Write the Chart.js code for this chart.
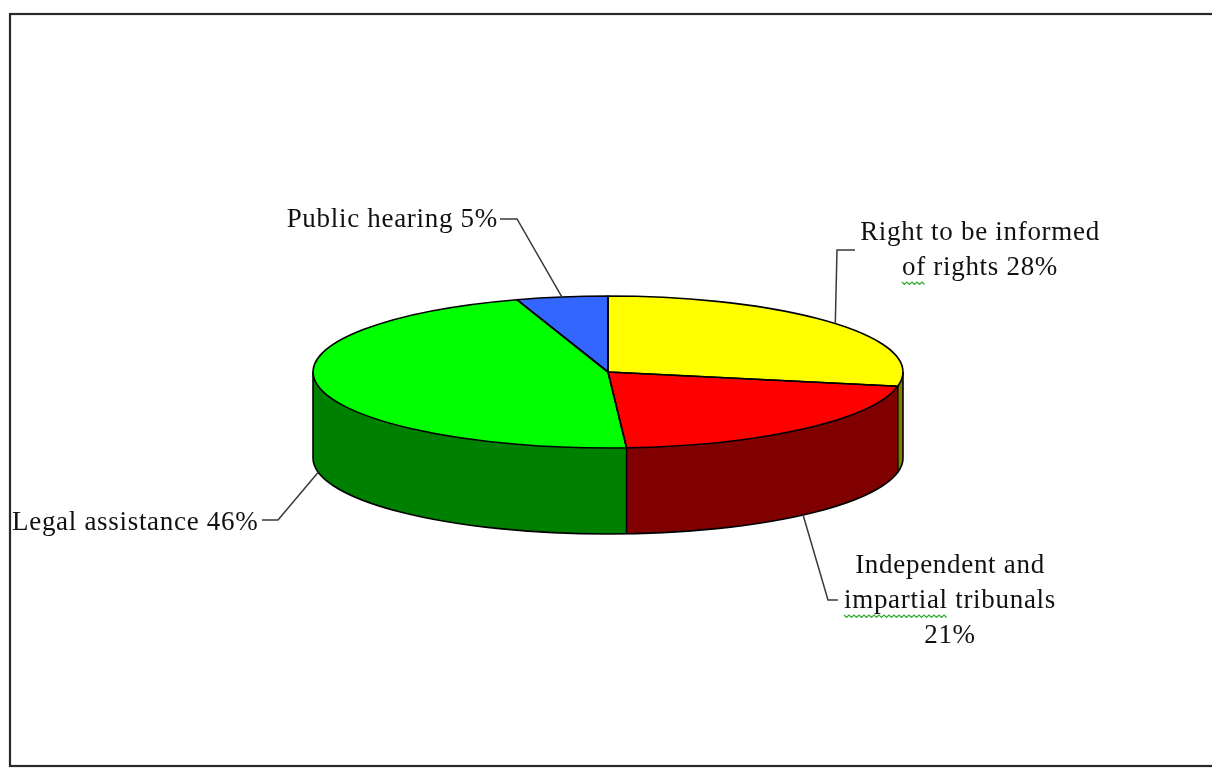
<!DOCTYPE html>
<html><head><meta charset="utf-8">
<script src="https://cdn.jsdelivr.net/npm/chart.js@4.4.0/dist/chart.umd.min.js"></script>
<style>html,body{margin:0;padding:0;background:#fff;overflow:hidden}canvas{display:block}</style>
</head><body>
<canvas id="c" width="1212" height="769"></canvas>
<script>
// ---- data ----
const categories = ["Right to be informed of rights", "Independent and impartial tribunals", "Legal assistance", "Public hearing"];
const values = [28, 21, 46, 5];
const topColors = ["#FFFF00", "#FF0000", "#00FF00", "#3366FF"];
const sideColors = ["#808000", "#800000", "#008000", "#1A3380"];
const wrapCounts = [[4, 3], [2, 2, 1], [3], [3]];

// ---- geometry / layout ----
const W = 1212, H = 769;
const CX = 608, CY = 372, R = 295, RY = 76, DEPTH = 86;
const FONT = "27px 'Liberation Serif', 'Times New Roman', serif";

function labelLines(i) {
  const words = (categories[i] + " " + values[i] + "%").split(" ");
  const out = []; let p = 0;
  wrapCounts[i].forEach(n => { out.push(words.slice(p, p + n).join(" ")); p += n; });
  return out;
}

const callouts = [
  { align: "center", x: 980, base: [240, 275], elbow: [837, 250], end: [855, 250], squiggle: [1, 0] },
  { align: "center", x: 950, base: [573, 608, 643], elbow: [828, 600], end: [838, 600], squiggle: [1, 0] },
  { align: "left", x: 12, base: [530], elbow: [278, 520], end: [262, 520] },
  { align: "right", x: 498, base: [227], elbow: [517, 219], end: [500, 219] }
];

function squash(ctx, cx, cy, k) {
  ctx.translate(cx, cy); ctx.scale(1, k); ctx.translate(-cx, -cy);
}

const pie3d = {
  id: "pie3d",
  beforeDraw(chart) {
    const ctx = chart.ctx;
    ctx.save();
    ctx.fillStyle = "#fff"; ctx.fillRect(0, 0, W, H);
    ctx.strokeStyle = "#2a2a2a"; ctx.lineWidth = 2.2;
    ctx.strokeRect(10, 14, W + 20, 752);
    ctx.restore();
  },
  beforeDatasetsDraw(chart) {
    const ctx = chart.ctx;
    const meta = chart.getDatasetMeta(0);
    const e0 = meta.data[0];
    const cx = e0.x, cy = e0.y, rr = e0.outerRadius, k = RY / rr;
    // side walls: stacked darker copies of each slice
    for (let d = DEPTH; d >= 1; d--) {
      ctx.save();
      ctx.translate(0, d);
      squash(ctx, cx, cy, k);
      meta.data.forEach((el, i) => {
        const f = Object.create(el);
        f.options = Object.assign({}, el.options, { backgroundColor: sideColors[i], borderWidth: 0 });
        el.draw.call(f, ctx);
      });
      ctx.restore();
    }
    // squash the top face
    ctx.save();
    squash(ctx, cx, cy, k);
  },
  afterDatasetsDraw(chart) {
    const ctx = chart.ctx;
    ctx.restore();
    const meta = chart.getDatasetMeta(0);
    const e0 = meta.data[0];
    const cx = e0.x, cy = e0.y, rr = e0.outerRadius;
    ctx.save();
    ctx.strokeStyle = "#000"; ctx.lineWidth = 1.6; ctx.lineJoin = "round";
    // top outlines
    meta.data.forEach(el => {
      ctx.beginPath();
      ctx.moveTo(cx, cy);
      ctx.ellipse(cx, cy, rr, RY, 0, el.startAngle, el.endAngle);
      ctx.closePath();
      ctx.stroke();
    });
    // bottom edge
    ctx.beginPath();
    ctx.ellipse(cx, cy + DEPTH, rr, RY, 0, 0, Math.PI);
    ctx.stroke();
    // vertical edges
    const verts = [0, Math.PI];
    meta.data.forEach(el => {
      let a = ((el.startAngle % (2 * Math.PI)) + 2 * Math.PI) % (2 * Math.PI);
      if (a > 0.01 && a < Math.PI - 0.01) verts.push(a);
    });
    verts.forEach(a => {
      const x = cx + rr * Math.cos(a), y = cy + RY * Math.sin(a);
      ctx.beginPath(); ctx.moveTo(x, y); ctx.lineTo(x, y + DEPTH); ctx.stroke();
    });
    ctx.restore();

    // callouts
    ctx.save();
    ctx.font = FONT;
    try { ctx.letterSpacing = "0.7px"; } catch (e) {}
    meta.data.forEach((el, i) => {
      const c = callouts[i];
      const a = (el.startAngle + el.endAngle) / 2;
      const s = Math.sin(a);
      const px = cx + rr * Math.cos(a);
      const py = cy + RY * s + (s > 0 ? DEPTH : 0);
      ctx.strokeStyle = "#3a3a3a"; ctx.lineWidth = 1.5;
      ctx.beginPath();
      ctx.moveTo(px, py); ctx.lineTo(c.elbow[0], c.elbow[1]); ctx.lineTo(c.end[0], c.end[1]);
      ctx.stroke();
      const lines = labelLines(i);
      ctx.fillStyle = "#111";
      ctx.textAlign = c.align; ctx.textBaseline = "alphabetic";
      lines.forEach((t, j) => ctx.fillText(t, c.x, c.base[j]));
      if (c.squiggle) {
        const [li, wi] = c.squiggle;
        const line = lines[li];
        const word = line.split(" ")[wi];
        const lw = ctx.measureText(line).width;
        let x0 = c.align === "center" ? c.x - lw / 2 : (c.align === "right" ? c.x - lw : c.x);
        const ww = ctx.measureText(word).width;
        const y0 = c.base[li] + 7;
        ctx.strokeStyle = "#2fa82f"; ctx.lineWidth = 1.2;
        ctx.beginPath();
        for (let x = 0; x <= ww; x += 2.5) {
          const y = y0 + (Math.round(x / 2.5) % 2 === 0 ? 0 : 2.5);
          if (x === 0) ctx.moveTo(x0 + x, y); else ctx.lineTo(x0 + x, y);
        }
        ctx.stroke();
      }
    });
    ctx.restore();
  }
};

new Chart(document.getElementById("c"), {
  type: "pie",
  data: {
    labels: categories,
    datasets: [{ data: values, backgroundColor: topColors, borderWidth: 0 }]
  },
  options: {
    responsive: false,
    animation: false,
    events: [],
    layout: { padding: { left: CX - R, right: W - (CX + R), top: CY - R, bottom: H - (CY + R) } },
    plugins: { legend: { display: false }, tooltip: { enabled: false } }
  },
  plugins: [pie3d]
});
</script>
</body></html>
